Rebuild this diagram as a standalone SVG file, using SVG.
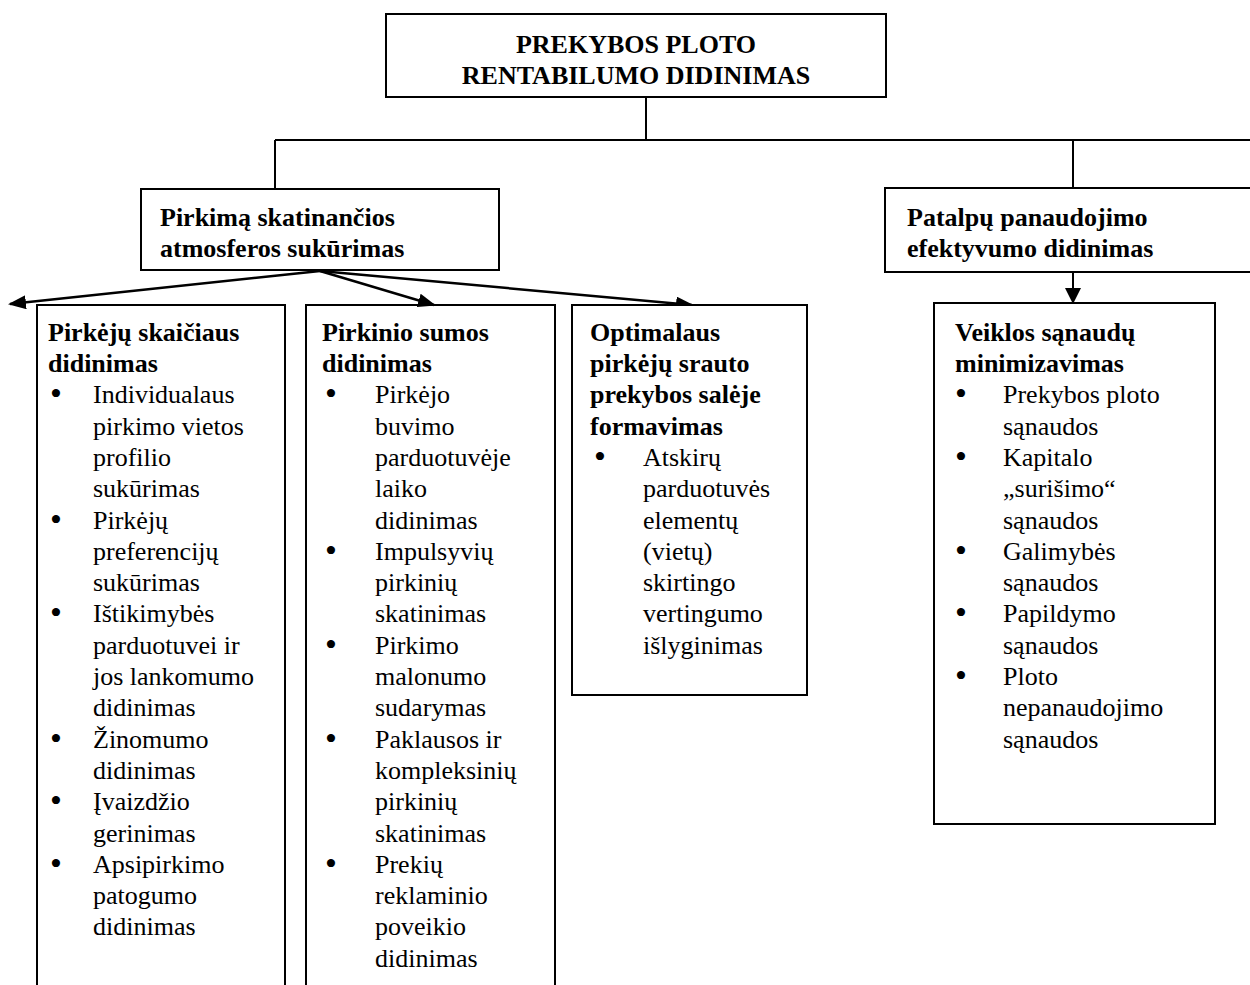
<svg xmlns="http://www.w3.org/2000/svg" width="1250" height="985" viewBox="0 0 1250 985">
<defs>
<style>
.box{fill:#fff;stroke:#000;stroke-width:2}
.ln{fill:none;stroke:#000;stroke-width:2}
.ar{fill:none;stroke:#000;stroke-width:2.5}
text{font-family:"Liberation Serif","Times New Roman",serif;font-size:26px;fill:#000}
.b{font-weight:bold}
.bu{font-size:34px}
</style>
<marker id="ah" markerWidth="18" markerHeight="14" refX="16" refY="7" orient="auto" markerUnits="userSpaceOnUse" viewBox="0 0 18 14">
<path d="M0,0 L18,7 L0,14 z" fill="#000"/>
</marker>
<marker id="ah2" markerWidth="16" markerHeight="16" refX="15" refY="8" orient="auto" markerUnits="userSpaceOnUse" viewBox="0 0 16 16">
<path d="M0,0 L16,8 L0,16 z" fill="#000"/>
</marker>
</defs>
<g id="connectors">
<path class="ln" d="M646,97 V140 M275,140 H1250 M275,140 V189 M1073,140 V188"/>
<line class="ar" x1="320" y1="271" x2="10" y2="304" marker-end="url(#ah)"/>
<line class="ar" x1="320" y1="271" x2="434" y2="305" marker-end="url(#ah)"/>
<line class="ar" x1="320" y1="271" x2="692" y2="305" marker-end="url(#ah)"/>
<line class="ln" x1="1073" y1="272" x2="1073" y2="303" marker-end="url(#ah2)"/>
</g>
<g id="root">
<rect class="box" x="386" y="14" width="500" height="83"/>
<text class="b" x="636" y="53" text-anchor="middle">PREKYBOS PLOTO</text>
<text class="b" x="636" y="84" text-anchor="middle">RENTABILUMO DIDINIMAS</text>
</g>
<g id="atmosfera">
<rect class="box" x="141" y="189" width="358" height="81"/>
<text class="b" x="160" y="226">Pirkimą skatinančios</text>
<text class="b" x="160" y="257">atmosferos sukūrimas</text>
</g>
<g id="patalpos">
<rect class="box" x="885" y="188" width="380" height="84"/>
<text class="b" x="907" y="226">Patalpų panaudojimo</text>
<text class="b" x="907" y="257">efektyvumo didinimas</text>
</g>
<g id="pirkeju">
<path class="ln" d="M37,1000 V305 H285 V1000"/>
<text class="b" x="48" y="341">Pirkėjų skaičiaus</text>
<text class="b" x="48" y="372">didinimas</text>
<text class="bu" x="50" y="405">•</text><text x="93" y="403">Individualaus</text>
<text x="93" y="435">pirkimo vietos</text>
<text x="93" y="466">profilio</text>
<text x="93" y="497">sukūrimas</text>
<text class="bu" x="50" y="531">•</text><text x="93" y="529">Pirkėjų</text>
<text x="93" y="560">preferencijų</text>
<text x="93" y="591">sukūrimas</text>
<text class="bu" x="50" y="624">•</text><text x="93" y="622">Ištikimybės</text>
<text x="93" y="654">parduotuvei ir</text>
<text x="93" y="685">jos lankomumo</text>
<text x="93" y="716">didinimas</text>
<text class="bu" x="50" y="750">•</text><text x="93" y="748">Žinomumo</text>
<text x="93" y="779">didinimas</text>
<text class="bu" x="50" y="812">•</text><text x="93" y="810">Įvaizdžio</text>
<text x="93" y="842">gerinimas</text>
<text class="bu" x="50" y="875">•</text><text x="93" y="873">Apsipirkimo</text>
<text x="93" y="904">patogumo</text>
<text x="93" y="935">didinimas</text>
</g>
<g id="pirkinio">
<path class="ln" d="M306,1000 V305 H555 V1000"/>
<text class="b" x="322" y="341">Pirkinio sumos</text>
<text class="b" x="322" y="372">didinimas</text>
<text class="bu" x="325" y="405">•</text><text x="375" y="403">Pirkėjo</text>
<text x="375" y="435">buvimo</text>
<text x="375" y="466">parduotuvėje</text>
<text x="375" y="497">laiko</text>
<text x="375" y="529">didinimas</text>
<text class="bu" x="325" y="562">•</text><text x="375" y="560">Impulsyvių</text>
<text x="375" y="591">pirkinių</text>
<text x="375" y="622">skatinimas</text>
<text class="bu" x="325" y="656">•</text><text x="375" y="654">Pirkimo</text>
<text x="375" y="685">malonumo</text>
<text x="375" y="716">sudarymas</text>
<text class="bu" x="325" y="750">•</text><text x="375" y="748">Paklausos ir</text>
<text x="375" y="779">kompleksinių</text>
<text x="375" y="810">pirkinių</text>
<text x="375" y="842">skatinimas</text>
<text class="bu" x="325" y="875">•</text><text x="375" y="873">Prekių</text>
<text x="375" y="904">reklaminio</text>
<text x="375" y="935">poveikio</text>
<text x="375" y="967">didinimas</text>
</g>
<g id="srautas">
<rect class="box" x="572" y="305" width="235" height="390"/>
<text class="b" x="590" y="341">Optimalaus</text>
<text class="b" x="590" y="372">pirkėjų srauto</text>
<text class="b" x="590" y="403">prekybos salėje</text>
<text class="b" x="590" y="435">formavimas</text>
<text class="bu" x="594" y="468">•</text><text x="643" y="466">Atskirų</text>
<text x="643" y="497">parduotuvės</text>
<text x="643" y="529">elementų</text>
<text x="643" y="560">(vietų)</text>
<text x="643" y="591">skirtingo</text>
<text x="643" y="622">vertingumo</text>
<text x="643" y="654">išlyginimas</text>
</g>
<g id="sanaudos">
<rect class="box" x="934" y="303" width="281" height="521"/>
<text class="b" x="955" y="341">Veiklos sąnaudų</text>
<text class="b" x="955" y="372">minimizavimas</text>
<text class="bu" x="955" y="405">•</text><text x="1003" y="403">Prekybos ploto</text>
<text x="1003" y="435">sąnaudos</text>
<text class="bu" x="955" y="468">•</text><text x="1003" y="466">Kapitalo</text>
<text x="1003" y="497">„surišimo“</text>
<text x="1003" y="529">sąnaudos</text>
<text class="bu" x="955" y="562">•</text><text x="1003" y="560">Galimybės</text>
<text x="1003" y="591">sąnaudos</text>
<text class="bu" x="955" y="624">•</text><text x="1003" y="622">Papildymo</text>
<text x="1003" y="654">sąnaudos</text>
<text class="bu" x="955" y="687">•</text><text x="1003" y="685">Ploto</text>
<text x="1003" y="716">nepanaudojimo</text>
<text x="1003" y="748">sąnaudos</text>
</g>
</svg>
